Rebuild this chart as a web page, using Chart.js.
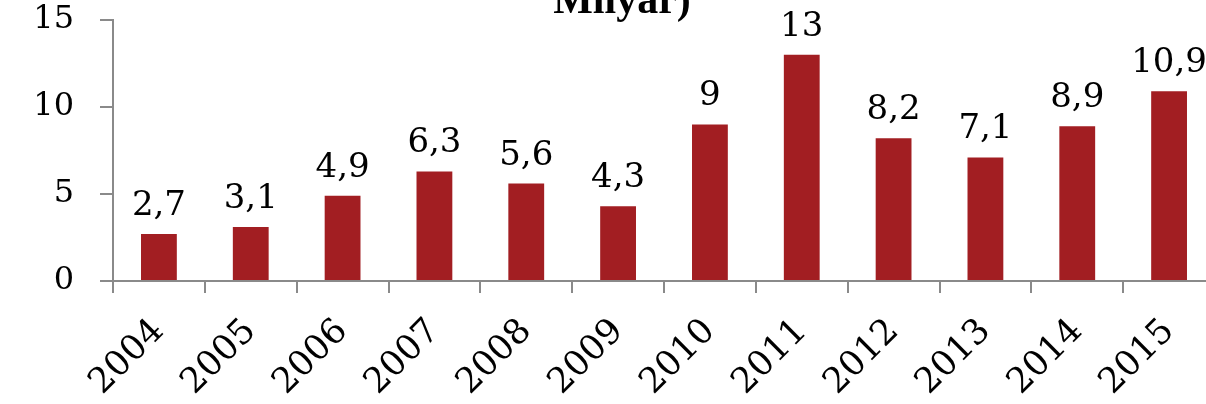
<!DOCTYPE html>
<html>
<head>
<meta charset="utf-8">
<script src="https://cdn.jsdelivr.net/npm/chart.js@4/dist/chart.umd.min.js"></script>
<style>
    html, body { margin: 0; padding: 0; background: #fff; overflow: hidden; }
    #wrap { position: absolute; left: 0; top: 0; width: 1244px; height: 404px; }
</style>
</head>
<body>
<div id="wrap"><canvas id="fdiChart" width="1244" height="404"></canvas></div>
<script>
// --------------------------------------------------
//  DATA
// --------------------------------------------------
const years = ['2004','2005','2006','2007','2008','2009','2010','2011','2012','2013','2014','2015'];
const values = [2.7, 3.1, 4.9, 6.3, 5.6, 4.3, 9, 13, 8.2, 7.1, 8.9, 10.9];
const yTicks = [0, 5, 10, 15];
const titleText = 'Milyar)';

const barColor = '#A21E22';
const axisColor = '#8a8a8a';
const serif = "'DejaVu Serif', Georgia, serif";

function formatValue(v) {
    return String(v).replace('.', ',');
}

// --------------------------------------------------
//  PLUGINS
// --------------------------------------------------
const valueLabels = {
    id: 'valueLabels',
    afterDatasetsDraw(chart) {
        const ctx = chart.ctx;
        const meta = chart.getDatasetMeta(0);
        ctx.save();
        ctx.font = '34px ' + serif;
        ctx.fillStyle = '#000';
        ctx.textAlign = 'center';
        ctx.textBaseline = 'alphabetic';
        meta.data.forEach((bar, i) => {
            ctx.fillText(formatValue(values[i]), bar.x, bar.y - 19);
        });
        ctx.restore();
    }
};

const cutTitle = {
    id: 'cutTitle',
    afterDraw(chart) {
        const ctx = chart.ctx;
        ctx.save();
        ctx.font = "bold 42px 'Liberation Serif', 'Times New Roman', serif";
        ctx.fillStyle = '#000';
        ctx.textAlign = 'center';
        ctx.textBaseline = 'alphabetic';
        ctx.fillText(titleText, chart.width / 2, 13);
        ctx.restore();
    }
};

// --------------------------------------------------
//  CHART
// --------------------------------------------------
const ctx = document.getElementById('fdiChart').getContext('2d');

new Chart(ctx, {
    type: 'bar',
    data: {
        labels: years,
        datasets: [{
            data: values,
            backgroundColor: barColor,
            borderWidth: 0,
            barPercentage: 0.39,
            categoryPercentage: 1
        }]
    },
    options: {
        responsive: false,
        animation: false,
        devicePixelRatio: 1,
        layout: { padding: { top: 20, right: 29, left: 0, bottom: 0 } },
        plugins: {
            legend: { display: false },
            tooltip: { enabled: false },
            title: { display: false }
        },
        scales: {
            x: {
                afterFit: scale => { scale.height = 123; },
                border: { color: axisColor, width: 2 },
                grid: {
                    offset: true,
                    drawOnChartArea: false,
                    drawTicks: true,
                    tickLength: 12,
                    color: axisColor,
                    lineWidth: 2
                },
                ticks: {
                    color: '#000',
                    font: { family: serif, size: 35 },
                    minRotation: 45,
                    maxRotation: 45,
                    padding: 18
                }
            },
            y: {
                min: 0,
                max: 15,
                afterFit: scale => {
                    scale.width = 113;
                    scale.paddingTop = 0;
                    scale.paddingBottom = 0;
                },
                afterBuildTicks: scale => { scale.ticks = yTicks.map(v => ({ value: v })); },
                border: { color: axisColor, width: 2 },
                grid: {
                    drawOnChartArea: false,
                    drawTicks: true,
                    tickLength: 13,
                    color: axisColor,
                    lineWidth: 2
                },
                ticks: {
                    color: '#000',
                    font: { family: serif, size: 32 },
                    padding: 26
                }
            }
        }
    },
    plugins: [valueLabels, cutTitle]
});
</script>
</body>
</html>
